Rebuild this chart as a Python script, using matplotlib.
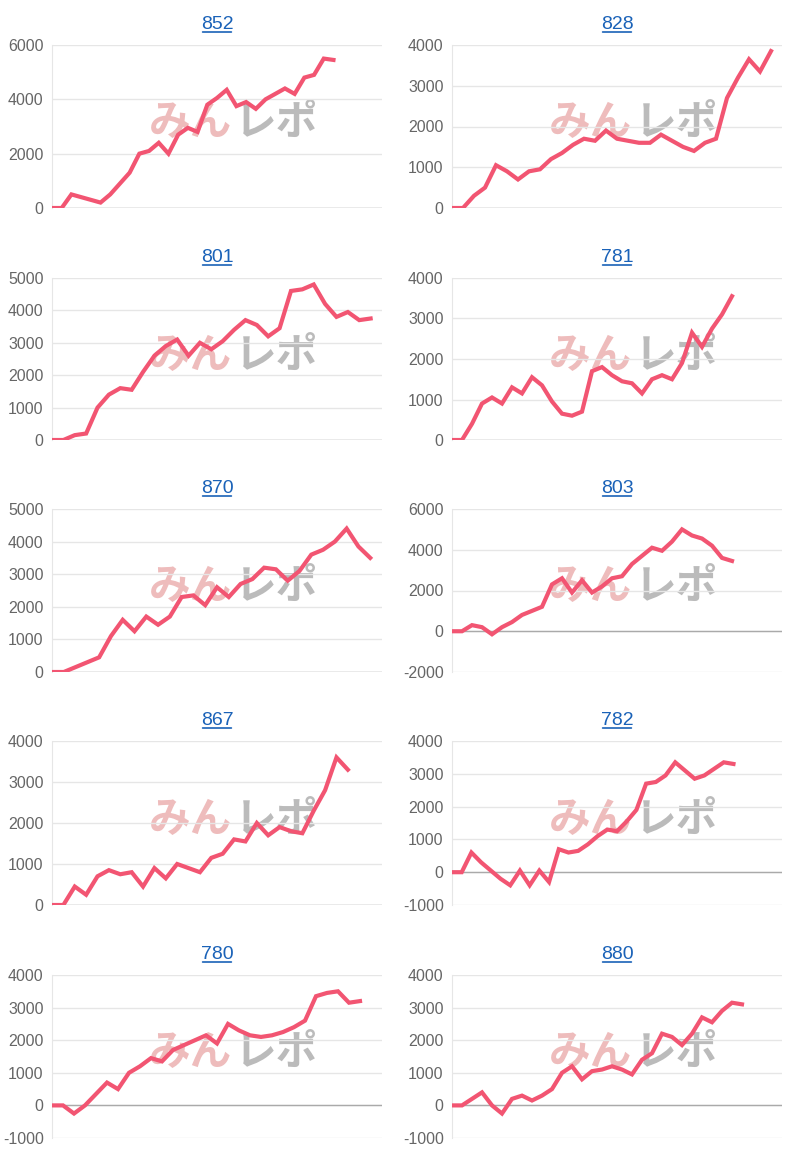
import matplotlib
matplotlib.use("Agg")
import matplotlib.pyplot as plt

plt.rcParams['font.family'] = ['Liberation Sans', 'Noto Sans CJK JP', 'DejaVu Sans']
plt.rcParams['axes.unicode_minus'] = False

titles = ["852", "828", "801", "781", "870", "803", "867", "782", "780", "880"]

s852 = [0, 0, 500, 400, 300, 200, 500, 900, 1300, 2000, 2100, 2400, 2000, 2700, 2950, 2800,
        3800, 4050, 4350, 3750, 3900, 3650, 4000, 4200, 4400, 4200, 4800, 4900, 5500, 5450]
s828 = [0, 0, 300, 500, 1050, 900, 700, 900, 950, 1200, 1350, 1550, 1700, 1650, 1900, 1700,
        1650, 1600, 1600, 1800, 1650, 1500, 1400, 1600, 1700, 2700, 3200, 3650, 3350, 3850]
s801 = [0, 0, 150, 200, 1000, 1400, 1600, 1550, 2100, 2600, 2900, 3100, 2600, 3000, 2800, 3050,
        3400, 3700, 3550, 3200, 3450, 4600, 4650, 4800, 4200, 3800, 3950, 3700, 3750]
s781 = [0, 0, 400, 900, 1050, 900, 1300, 1150, 1550, 1350, 950, 650, 600, 700, 1700, 1800, 1600,
        1450, 1400, 1150, 1500, 1600, 1500, 1900, 2650, 2300, 2750, 3100, 3550]
s870 = [0, 0, 150, 300, 450, 1100, 1600, 1250, 1700, 1450, 1700, 2300, 2350, 2050, 2600, 2300,
        2700, 2850, 3200, 3150, 2800, 3100, 3600, 3750, 4000, 4400, 3850, 3500]
s803 = [0, 0, 300, 200, -150, 200, 450, 800, 1000, 1200, 2300, 2600, 1900, 2500, 1900, 2200,
        2600, 2700, 3300, 3700, 4100, 3950, 4400, 5000, 4700, 4550, 4200, 3600, 3450]
s867 = [0, 0, 450, 250, 700, 850, 750, 800, 450, 900, 650, 1000, 900, 800, 1150, 1250, 1600,
        1550, 2000, 1700, 1900, 1800, 1750, 2300, 2800, 3600, 3300]
s782 = [0, 0, 600, 300, 50, -200, -400, 50, -400, 50, -300, 700, 600, 650, 850, 1100, 1300,
        1250, 1550, 1900, 2700, 2750, 2950, 3350, 3100, 2850, 2950, 3150, 3350, 3300]
s780 = [0, 0, -250, 0, 350, 700, 500, 1000, 1200, 1450, 1350, 1700, 1850, 2000, 2150, 1900,
        2500, 2300, 2150, 2100, 2150, 2250, 2400, 2600, 3350, 3450, 3500, 3150, 3200]
s880 = [0, 0, 200, 400, 0, -250, 200, 300, 150, 300, 500, 1000, 1200, 800, 1050, 1100, 1200,
        1100, 950, 1400, 1600, 2200, 2100, 1850, 2200, 2700, 2550, 2900, 3150, 3100]

series = [s852, s828, s801, s781, s870, s803, s867, s782, s780, s880]
ylims = [(0, 6000), (0, 4000), (0, 5000), (0, 4000), (0, 5000),
         (-2000, 6000), (0, 4000), (-1000, 4000), (-1000, 4000), (-1000, 4000)]
steps = [2000, 1000, 1000, 1000, 1000, 2000, 1000, 1000, 1000, 1000]
nslots = [34, 30, 29, 33, 28, 33, 29, 34, 30, 33]

W, H = 795, 1155
fig = plt.figure(figsize=(W / 100, H / 100), dpi=100)
tops = [45, 278, 509, 741, 975]
bots = [208, 440, 672, 905, 1138]
lefts = [52, 452]
width = 330

for i, (t, s) in enumerate(zip(titles, series)):
    r, c = divmod(i, 2)
    h = bots[r] - tops[r]
    ax = fig.add_axes([lefts[c] / W, 1 - bots[r] / H, width / W, h / H])
    ax.plot(range(len(s)), s, color="#f25572", lw=3, solid_joinstyle="miter", zorder=3)
    lo, hi = ylims[i]
    ax.set_ylim(lo, hi)
    ax.set_xlim(0, nslots[i])
    ax.set_yticks(range(lo, hi + 1, steps[i]))
    ax.set_xticks([])
    ax.grid(axis="y", color="#e6e6e6", lw=1)
    ax.axhline(0, color="#aaaaaa", lw=1, zorder=2)
    for sp in ["top", "right", "bottom"]:
        ax.spines[sp].set_visible(False)
    ax.spines["left"].set_color("#e6e6e6")
    ax.tick_params(axis="y", length=0, labelsize=11.5, labelcolor="#666666", pad=6)
    # title as link-style text with underline
    ty = 1 + 16 / h
    ax.text(0.5, ty, t, transform=ax.transAxes, ha="center", va="baseline",
            color="#1a62b8", fontsize=14)
    ax.annotate("", xy=(0.552, ty - 3 / h), xytext=(0.448, ty - 3 / h),
                xycoords="axes fraction",
                arrowprops=dict(arrowstyle="-", color="#1a62b8", lw=1.2))
    # watermark
    ax.text(0.42, 0.52, "みん", transform=ax.transAxes, fontsize=30, fontweight="bold",
            style="italic", color="#e8a0a0", alpha=0.7, ha="center", va="center",
            zorder=1, family=["Noto Sans CJK JP"])
    ax.text(0.68, 0.52, "レポ", transform=ax.transAxes, fontsize=30, fontweight="bold",
            style="italic", color="#aaaaaa", alpha=0.8, ha="center", va="center",
            zorder=1, family=["Noto Sans CJK JP"])

fig.savefig("out.png", dpi=100)
